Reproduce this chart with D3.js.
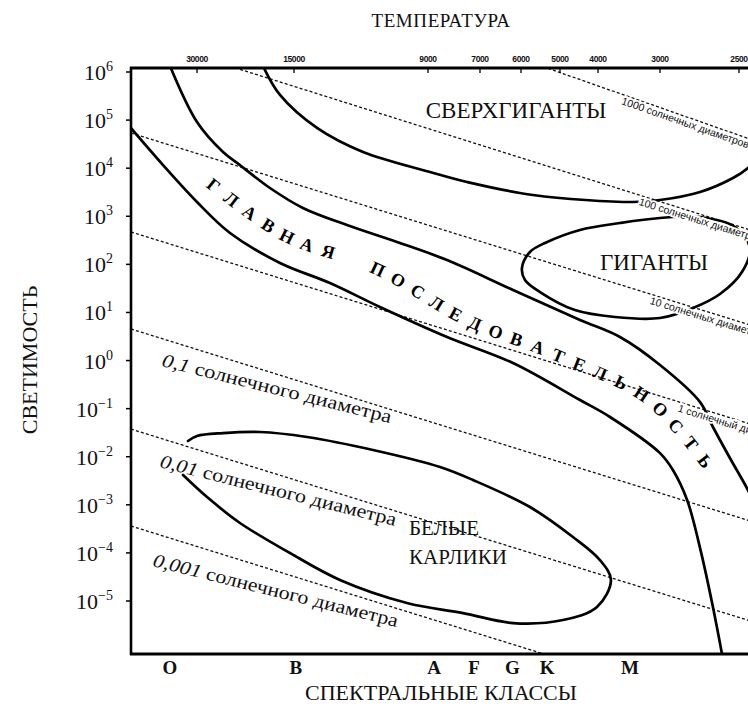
<!DOCTYPE html>
<html>
<head>
<meta charset="utf-8">
<script src="https://cdn.jsdelivr.net/npm/d3@7"></script>
<style>
  body { margin: 0; background: #fff; }
  svg { display: block; }
</style>
</head>
<body>
<div id="chart"></div>
<script>
// temperature ticks on the top axis (K)
const tempTicks = [30000, 15000, 9000, 7000, 6000, 5000, 4000, 3000, 2500]
// spectral classes on the bottom axis, and the temperature each one sits at
const spectralClasses = ['O', 'B', 'A', 'F', 'G', 'K', 'M']
const spectralTemps = [36400, 14900, 8740, 7200, 6200, 5310, 3450]
// luminosity ticks (powers of ten, in solar units)
const lumExponents = [6, 5, 4, 3, 2, 1, 0, -1, -2, -3, -4, -5]

const radiusLabels = ['1000 солнечных диаметров', '100 солнечных диаметров', '10 солнечных диаметров',
  '1 солнечный диаметр', '0,1 солнечного диаметра', '0,01 солнечного диаметра', '0,001 солнечного диаметра']
const radiusLumHot = [4.27e8, 2.17e6, 2.02e4, 177, 1.7, 0.0141, 1.36e-4]
const radiusLumCool = [1.82e5, 2.02e3, 20.9, 0.183, 1.76e-3, 1.47e-5, 1.41e-7]

// outlines of the regions, [temperature K, luminosity]
const mainSeqUpper = [[36380, 1.33e6], [30000, 9.12e4], [24910, 2.17e4], [22070, 1.16e4], [17810, 3870],
  [14500, 1490], [12260, 658], [10130, 292], [8210, 123], [6183, 29.3], [4446, 6.97], [3613, 3.09],
  [3000, 0.808], [2735, 0.137], [2655, 0.0415], [2553, 0.0094], [2449, 0.00203], [2382, 6.1e-4]]
const mainSeqLower = [[48770, 7.6e4], [38240, 1.16e4], [30000, 1980], [23700, 449], [16580, 107],
  [13080, 40.9], [10810, 13], [8210, 3.09], [6183, 0.889], [4446, 0.151], [3784, 0.067], [3000, 0.0119],
  [2912, 0.0053], [2818, 1.26e-3], [2735, 1.26e-4], [2655, 7.5e-6], [2588, 4.7e-7]]
const superGiants = [[18720, 1.33e6], [16580, 3.33e5], [13740, 6.86e4], [11530, 2.17e4], [8913, 8340],
  [7455, 5160], [5674, 2770], [3401, 1980], [3000, 2180], [2735, 3200], [2535, 6250], [2449, 1.01e4],
  [2382, 1.88e4]]
const giants = [[5973, 84], [5754, 181], [5364, 278], [4446, 519], [3613, 724], [3000, 921], [2735, 966],
  [2523, 598], [2438, 219], [2483, 69.3], [2612, 24.2], [2780, 12.4], [3000, 7.67], [3697, 8.04],
  [4580, 11.2], [5490, 26.6], [5890, 47.3]]
const whiteDwarfs = [[31990, 0.0212], [30000, 0.027], [24910, 0.0311], [19120, 0.0327], [14270, 0.0257],
  [11100, 0.0138], [8492, 6.11e-3], [7241, 3.28e-3], [5754, 9.0e-4], [4634, 2.14e-4], [3964, 7.1e-5],
  [3767, 2.74e-5], [4024, 7.5e-6], [4914, 4.03e-6], [6183, 3.48e-6], [7600, 5.6e-6], [9752, 9.1e-6],
  [12590, 2.74e-5], [15440, 9.95e-5], [22070, 4.19e-4], [27920, 1.45e-3], [33150, 4.17e-3]]
// baseline the main sequence caption follows
const mainSeqText = [[28340, 3520], [16580, 278], [11100, 54.6], [7674, 4.98], [5240, 0.933],
  [3338, 0.137], [2925, 0.0297], [2735, 5.3e-3]]
const mainSeqWords = ['ГЛАВНАЯ', 'ПОСЛЕДОВАТЕЛЬНОСТЬ']

// graph sizes
let width = 748
let height = 711
let plotLeft = 131, plotTop = 68, plotBottom = 654, plotRight = 775

let svg = d3.select('#chart')
  .append('svg')
  .attr('width', width)
  .attr('height', height)
  .style('background', '#fff')

// temperature axis is a schematic one, so piecewise log
let x = d3.scaleLog()
  .domain(tempTicks)
  .range([66, 163, 297, 349, 390, 429, 467, 529, 608].map(d => d + plotLeft))
let y = d3.scaleLog()
  .domain([1e-5, 1e6])
  .range([601, 72])

let defs = svg.append('defs')
defs.append('clipPath')
  .attr('id', 'plot')
  .append('rect')
  .attr('x', plotLeft).attr('y', plotTop)
  .attr('width', plotRight - plotLeft).attr('height', plotBottom - plotTop)

let serif = '"Liberation Serif", "Times New Roman", serif'
let sans = '"Liberation Sans", Arial, sans-serif'
let deg = s => Math.atan(s) * 180 / Math.PI

// dashed lines of equal radius
let plot = svg.append('g').attr('clip-path', 'url(#plot)')
let radiusLines = radiusLabels.map((label, i) => {
  let x1 = x(30000), y1 = y(radiusLumHot[i])
  let x2 = x(3000), y2 = y(radiusLumCool[i])
  let s = (y2 - y1) / (x2 - x1)
  return {label: label, s: s, at: X => y1 + (X - x1) * s}
})
plot.selectAll('line.radius')
  .data(radiusLines)
  .enter()
  .append('line')
  .attr('class', 'radius')
  .attr('x1', plotLeft - 5).attr('y1', d => d.at(plotLeft - 5))
  .attr('x2', plotRight).attr('y2', d => d.at(plotRight))
  .attr('stroke', '#111')
  .attr('stroke-width', 1.3)
  .attr('stroke-dasharray', '3,2.2')

// region outlines
let curve = d3.line()
  .x(d => x(d[0]))
  .y(d => y(d[1]))
  .curve(d3.curveCatmullRom.alpha(0.5))

;[mainSeqUpper, mainSeqLower, superGiants, whiteDwarfs].forEach(pts => {
  plot.append('path')
    .attr('d', curve(pts))
    .attr('fill', 'none')
    .attr('stroke', '#000')
    .attr('stroke-width', 2.7)
    .attr('stroke-linecap', 'round')
})
plot.append('path')
  .attr('d', curve.curve(d3.curveCatmullRomClosed.alpha(0.5))(giants))
  .attr('fill', 'none')
  .attr('stroke', '#000')
  .attr('stroke-width', 2.7)

// small labels just under the big radius lines, they break the curves
let smallStart = [624, 641, 652, 680]
radiusLines.slice(0, 4).forEach((d, i) => {
  let X = smallStart[i]
  svg.append('text')
    .attr('transform', `translate(${X},${d.at(X)}) rotate(${deg(d.s)})`)
    .attr('y', 9.5)
    .attr('font-family', sans)
    .attr('font-size', 10.5)
    .attr('fill', '#111')
    .attr('stroke', '#fff')
    .attr('stroke-width', 3.5)
    .attr('paint-order', 'stroke')
    .text(d.label)
})

// big labels under the small radius lines
let bigStart = [161, 159, 152]
let bigOffset = [27.7, 29.3, 33.5]
let bigLength = [236, 243, 252]
radiusLines.slice(4).forEach((d, i) => {
  let X = bigStart[i]
  let parts = d.label.split(' ')
  let t = svg.append('text')
    .attr('transform', `translate(${X},${d.at(X) + bigOffset[i]}) rotate(14)`)
    .attr('font-family', serif)
    .attr('font-size', 19)
    .attr('textLength', bigLength[i])
    .attr('lengthAdjust', 'spacingAndGlyphs')
    .attr('fill', '#111')
  t.append('tspan').attr('font-style', 'italic').text(parts[0])
  t.append('tspan').text(' ' + parts.slice(1).join(' '))
})

// main sequence caption, letter by letter along a guide path
defs.append('path')
  .attr('id', 'msPath')
  .attr('d', d3.line().x(d => x(d[0])).y(d => y(d[1])).curve(d3.curveCatmullRom.alpha(0.5))(mainSeqText))
let letters = []
mainSeqWords[0].split('').forEach((c, i) => letters.push({c: c, off: 4 + i * 22.8}))
mainSeqWords[1].split('').forEach((c, i) => letters.push({c: c, off: 192 + i * 22.4}))
svg.selectAll('text.ms')
  .data(letters)
  .enter()
  .append('text')
  .attr('class', 'ms')
  .attr('dy', -3)
  .attr('font-family', serif)
  .attr('font-weight', 'bold')
  .attr('font-size', 18)
  .attr('fill', '#000')
  .append('textPath')
  .attr('href', '#msPath')
  .attr('startOffset', d => d.off)
  .attr('text-anchor', 'middle')
  .text(d => d.c)

// region names
let regionText = (txt, X, Y, size, anchor) => svg.append('text')
  .attr('x', X).attr('y', Y)
  .attr('font-family', serif)
  .attr('font-size', size)
  .attr('text-anchor', anchor)
  .attr('fill', '#111')
  .text(txt)
regionText('СВЕРХГИГАНТЫ', 516, 118, 23, 'middle')
regionText('ГИГАНТЫ', 654, 270, 23, 'middle')
regionText('БЕЛЫЕ', 409, 535, 21, 'start')
regionText('КАРЛИКИ', 409, 564, 21, 'start')

// frame
let frame = svg.append('g').attr('stroke', '#000')
frame.append('line').attr('x1', plotLeft - 1).attr('x2', plotRight).attr('y1', plotTop).attr('y2', plotTop).attr('stroke-width', 3)
frame.append('line').attr('x1', plotLeft).attr('x2', plotLeft).attr('y1', plotTop - 1).attr('y2', plotBottom + 1).attr('stroke-width', 2.6)
frame.append('line').attr('x1', plotLeft - 1).attr('x2', plotRight).attr('y1', plotBottom).attr('y2', plotBottom).attr('stroke-width', 2.8)

// luminosity axis
let yTicks = svg.append('g')
lumExponents.forEach(e => {
  let yy = y(Math.pow(10, e))
  yTicks.append('line')
    .attr('x1', plotLeft - 5).attr('x2', plotLeft)
    .attr('y1', yy).attr('y2', yy)
    .attr('stroke', '#000').attr('stroke-width', 1.5)
  let t = yTicks.append('text')
    .attr('x', 113).attr('y', yy + 8)
    .attr('text-anchor', 'end')
    .attr('font-family', serif)
    .attr('font-size', 22)
    .attr('fill', '#111')
  t.append('tspan').text('10')
  t.append('tspan')
    .attr('dy', -9)
    .attr('font-size', 14)
    .text(e < 0 ? '−' + Math.abs(e) : String(e))
})

// temperature axis on top
let xTop = svg.append('g')
tempTicks.forEach(t => {
  xTop.append('line')
    .attr('x1', x(t)).attr('x2', x(t))
    .attr('y1', plotTop).attr('y2', plotTop + 5)
    .attr('stroke', '#000').attr('stroke-width', 1.3)
  xTop.append('text')
    .attr('x', x(t)).attr('y', 62)
    .attr('text-anchor', 'middle')
    .attr('font-family', sans)
    .attr('font-weight', 'bold')
    .attr('font-size', 8.5)
    .attr('letter-spacing', -0.4)
    .attr('fill', '#111')
    .text(t)
})

// spectral classes at the bottom
svg.selectAll('text.cls')
  .data(spectralClasses)
  .enter()
  .append('text')
  .attr('class', 'cls')
  .attr('x', (d, i) => x(spectralTemps[i]))
  .attr('y', 674)
  .attr('text-anchor', 'middle')
  .attr('font-family', serif)
  .attr('font-weight', 'bold')
  .attr('font-size', 19)
  .attr('fill', '#111')
  .text(d => d)

// axis titles
svg.append('text')
  .attr('x', 441).attr('y', 27)
  .attr('text-anchor', 'middle')
  .attr('font-family', serif)
  .attr('font-size', 19)
  .attr('letter-spacing', 0.6)
  .attr('fill', '#111')
  .text('ТЕМПЕРАТУРА')
svg.append('text')
  .attr('transform', 'translate(37,360) rotate(-90)')
  .attr('text-anchor', 'middle')
  .attr('font-family', serif)
  .attr('font-size', 22)
  .attr('fill', '#111')
  .text('СВЕТИМОСТЬ')
svg.append('text')
  .attr('x', 441).attr('y', 700)
  .attr('text-anchor', 'middle')
  .attr('font-family', serif)
  .attr('font-size', 22)
  .attr('fill', '#111')
  .text('СПЕКТРАЛЬНЫЕ КЛАССЫ')
</script>
</body>
</html>
